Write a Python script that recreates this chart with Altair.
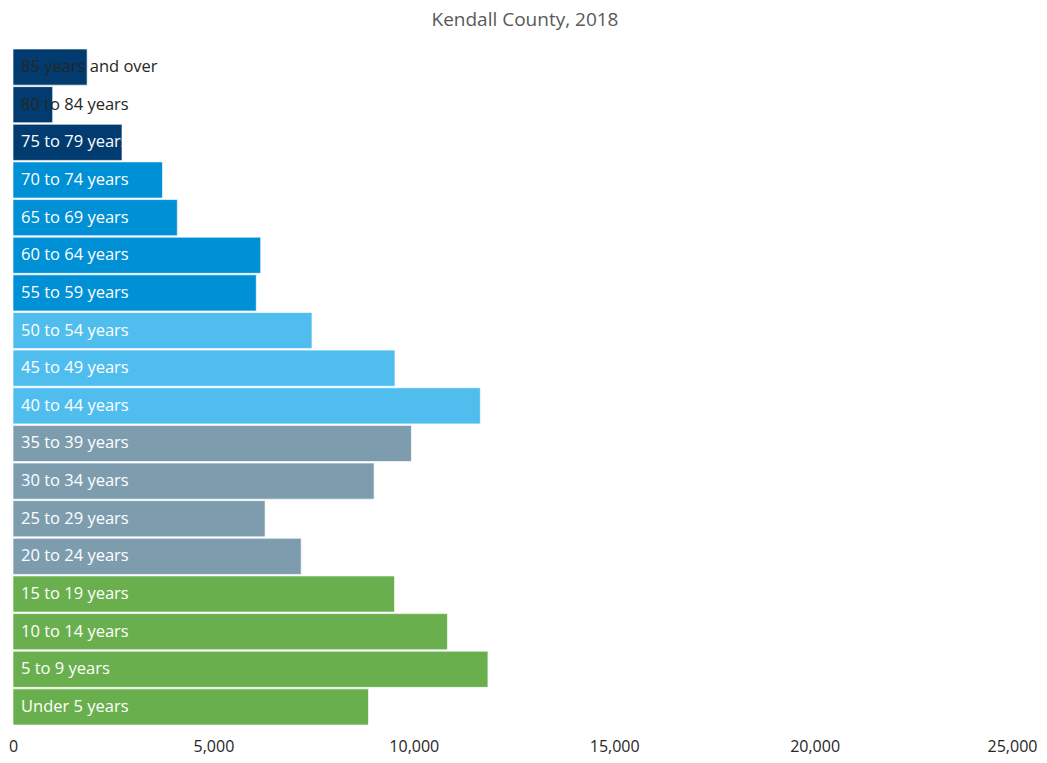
import altair as alt
import pandas as pd

age_groups = [
    "85 years and over", "80 to 84 years", "75 to 79 years", "70 to 74 years",
    "65 to 69 years", "60 to 64 years", "55 to 59 years", "50 to 54 years",
    "45 to 49 years", "40 to 44 years", "35 to 39 years", "30 to 34 years",
    "25 to 29 years", "20 to 24 years", "15 to 19 years", "10 to 14 years",
    "5 to 9 years", "Under 5 years",
]
population = [
    1850, 990, 2720, 3730, 4100, 6180, 6070, 7460, 9530, 11660,
    9940, 9010, 6290, 7190, 9520, 10840, 11850, 8870,
]
bands = [
    "75+", "75+", "75+", "55-74", "55-74", "55-74", "55-74", "40-54", "40-54", "40-54",
    "20-39", "20-39", "20-39", "20-39", "0-19", "0-19", "0-19", "0-19",
]
band_names = ["75+", "55-74", "40-54", "20-39", "0-19"]
band_colors = ["#023B6F", "#0090D5", "#4FBEEE", "#7D9DAF", "#6AAF4E"]
dark_label_groups = ["85 years and over", "80 to 84 years"]
x_ticks = [0, 5000, 10000, 15000, 20000, 25000]

df = pd.DataFrame({"age": age_groups, "pop": population, "band": bands})

FONT = "Open Sans"

y_enc = alt.Y("age:N", sort=age_groups, axis=None,
              scale=alt.Scale(paddingInner=0.04, paddingOuter=0))

bars = alt.Chart(df).mark_bar(stroke="#ffffff", strokeWidth=0.8, strokeOpacity=0.8).encode(
    x=alt.X("pop:Q",
            scale=alt.Scale(domain=[0, 25000], nice=False),
            axis=alt.Axis(values=x_ticks, format=",.0f", title=None, grid=False,
                          domain=False, ticks=False, labelFontSize=16,
                          labelFont=FONT, labelColor="#262626", labelPadding=13,
                          labelFlush=False, labelOverlap=False,
                          labelOffset={"condition": {"test": "datum.value == 25000", "value": -3},
                                       "value": 0})),
    y=y_enc,
    color=alt.Color("band:N", scale=alt.Scale(domain=band_names, range=band_colors), legend=None),
)

labels = alt.Chart(df).mark_text(align="left", baseline="middle", dx=8, fontSize=16.5, font=FONT).encode(
    x=alt.datum(0),
    y=y_enc,
    text="age:N",
    color=alt.condition(alt.FieldOneOfPredicate(field="age", oneOf=dark_label_groups),
                        alt.value("#262626"), alt.value("#ffffff")),
)

chart = alt.layer(bars, labels).properties(
    width=1002,
    height=676,
    autosize=alt.AutoSizeParams(type="none"),
    padding={"left": 5, "top": 41, "right": 24, "bottom": 30},
    title=alt.TitleParams("Kendall County, 2018", fontSize=19, font=FONT, color="#595959",
                          fontWeight="normal", anchor="middle", offset=19, dx=11),
).configure_view(stroke=None)

chart.save("out.html", embed_options={"renderer": "svg", "actions": False})
